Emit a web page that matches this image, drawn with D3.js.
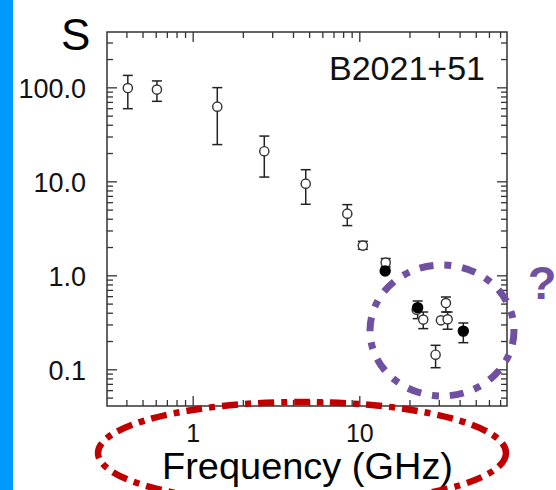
<!DOCTYPE html>
<html>
<head>
<meta charset="utf-8">
<script src="https://cdn.jsdelivr.net/npm/d3@7"></script>
<style>
  html, body { margin: 0; padding: 0; background: #fff; }
  svg { display: block; font-family: "Liberation Sans", Arial, sans-serif; }
</style>
</head>
<body>
<div id="chart"></div>
<script>
// spectrum of B2021+51
var freq   = [0.408, 0.61, 1.405, 2.69, 4.77, 8.47, 10.5, 14.4, 22.1, 24.2, 30.9, 33.1, 33.9, 28.7, 14.3, 22.4, 42.1];
var flux   = [98.3, 94.6, 62.3, 20.9, 9.45, 4.53, 2.07, 1.365, 0.431, 0.338, 0.332, 0.507, 0.340, 0.143, 1.11, 0.453, 0.255];
var fluxHi = [134, 117, 99.3, 30.3, 13.3, 5.65, 2.3, 1.51, null, 0.407, null, 0.588, 0.407, 0.18, null, 0.533, 0.311];
var fluxLo = [59.3, 71, 24.6, 11.1, 5.7, 3.38, 1.89, 1.23, null, 0.271, null, 0.407, 0.267, 0.104, null, 0.346, 0.192];
var filled = [false, false, false, false, false, false, false, false, false, false, false, false, false, false, true, true, true];

var xMajor = [1, 10];
var yMajor = [0.1, 1, 10, 100];
var xDomain = [0.306, 77];
var yDomain = [0.0407, 388];

var W = 556, H = 490;
var margin = { top: 32, right: 49, bottom: 84, left: 107 };
var width = W - margin.left - margin.right;
var height = H - margin.top - margin.bottom;

var points = freq.map(function (f, i) {
  return { x: f, y: flux[i], hi: fluxHi[i], lo: fluxLo[i], filled: filled[i] };
});

var xScale = d3.scaleLog().domain(xDomain).range([0, width]);
var yScale = d3.scaleLog().domain(yDomain).range([height, 0]);

var svg = d3.select("#chart").append("svg")
  .attr("width", W)
  .attr("height", H);

// blue side strip of the slide
svg.append("rect").attr("x", 0).attr("y", 0).attr("width", 13).attr("height", H).attr("fill", "#0099ff");

var g = svg.append("g")
  .attr("transform", "translate(" + margin.left + "," + margin.top + ")");

var xMinor = xScale.ticks().filter(function (d) { return xMajor.indexOf(d) < 0; });
var yMinor = yScale.ticks().filter(function (d) { return yMajor.indexOf(+d.toFixed(3)) < 0; });

// ticks on all four sides, pointing inward
function drawAxis(axisFn, scale, transform, majors, minors, fmt) {
  var gm = g.append("g").attr("transform", transform)
    .call(axisFn(scale).tickValues(minors).tickSize(-6).tickFormat(""));
  var gM = g.append("g").attr("transform", transform)
    .call(axisFn(scale).tickValues(majors).tickSize(-10).tickFormat(fmt || ""));
  [gm, gM].forEach(function (a) {
    a.select(".domain").remove();
    a.selectAll(".tick line").attr("stroke", "#333").attr("stroke-width", 1.3);
  });
  return gM;
}

var bx = drawAxis(d3.axisBottom, xScale, "translate(0," + height + ")", xMajor, xMinor, d3.format("d"));
bx.selectAll(".tick text")
  .attr("y", 36).attr("dy", 0)
  .attr("font-size", 25).attr("fill", "#111")
  .attr("font-family", "Liberation Sans, Arial, sans-serif");

drawAxis(d3.axisTop, xScale, "translate(0,0)", xMajor, xMinor, null);

var ly = drawAxis(d3.axisLeft, yScale, "translate(0,0)", yMajor, yMinor, d3.format(".1f"));
ly.selectAll(".tick text")
  .attr("x", -21).attr("dy", "0.37em")
  .attr("font-size", 27).attr("fill", "#111")
  .attr("font-family", "Liberation Sans, Arial, sans-serif");

drawAxis(d3.axisRight, yScale, "translate(" + width + ",0)", yMajor, yMinor, null);

// plot frame
g.append("rect")
  .attr("width", width).attr("height", height)
  .attr("fill", "none").attr("stroke", "#333").attr("stroke-width", 1.5);

// error bars
var eb = g.append("g").selectAll("g").data(points.filter(function (d) { return d.hi != null; }))
  .join("g").attr("stroke", "#222").attr("stroke-width", 1.5);
eb.append("line")
  .attr("x1", function (d) { return xScale(d.x); }).attr("x2", function (d) { return xScale(d.x); })
  .attr("y1", function (d) { return yScale(d.hi); }).attr("y2", function (d) { return yScale(d.lo); });
eb.append("line")
  .attr("x1", function (d) { return xScale(d.x) - 5; }).attr("x2", function (d) { return xScale(d.x) + 5; })
  .attr("y1", function (d) { return yScale(d.hi); }).attr("y2", function (d) { return yScale(d.hi); });
eb.append("line")
  .attr("x1", function (d) { return xScale(d.x) - 5; }).attr("x2", function (d) { return xScale(d.x) + 5; })
  .attr("y1", function (d) { return yScale(d.lo); }).attr("y2", function (d) { return yScale(d.lo); });

// markers: open first, filled on top
g.append("g").selectAll("circle")
  .data(points.filter(function (d) { return !d.filled; }).concat(points.filter(function (d) { return d.filled; })))
  .join("circle")
  .attr("cx", function (d) { return xScale(d.x); })
  .attr("cy", function (d) { return yScale(d.y); })
  .attr("r", function (d) { return d.filled ? 5 : 4.6; })
  .attr("fill", function (d) { return d.filled ? "#000" : "#fff"; })
  .attr("stroke", function (d) { return d.filled ? "#000" : "#333"; })
  .attr("stroke-width", 1.4);

// labels
svg.append("text").attr("x", 61).attr("y", 50).attr("font-size", 44).attr("fill", "#000").text("S");
svg.append("text").attr("x", 485).attr("y", 80).attr("text-anchor", "end")
  .attr("font-size", 34).attr("fill", "#111").text("B2021+51");
svg.append("text").attr("x", 307.5).attr("y", 478.5).attr("text-anchor", "middle")
  .attr("font-size", 36).attr("textLength", 291).attr("lengthAdjust", "spacingAndGlyphs")
  .attr("fill", "#000").text("Frequency (GHz)");

// annotations drawn over the slide
svg.append("ellipse")
  .attr("cx", 442).attr("cy", 330.5).attr("rx", 72).attr("ry", 65.5)
  .attr("fill", "none").attr("stroke", "#7050a0").attr("stroke-width", 7)
  .attr("stroke-dasharray", "14,11,7,11");
svg.append("text").attr("x", 542).attr("y", 299).attr("text-anchor", "middle")
  .attr("font-size", 47).attr("font-weight", "bold").attr("fill", "#7050a0").text("?");
svg.append("ellipse")
  .attr("cx", 302).attr("cy", 453).attr("rx", 204).attr("ry", 51)
  .attr("fill", "none").attr("stroke", "#c00000").attr("stroke-width", 6.5)
  .attr("stroke-dasharray", "16,7,6,7");
</script>
</body>
</html>
